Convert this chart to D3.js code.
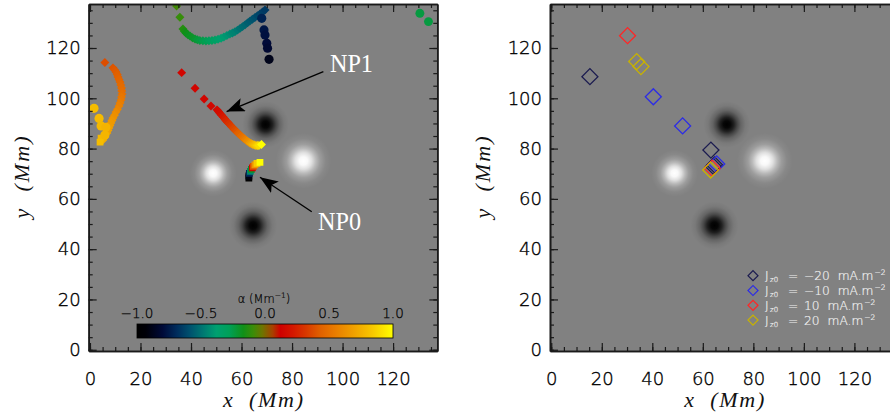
<!DOCTYPE html>
<html>
<head>
<meta charset="utf-8">
<script src="https://cdn.jsdelivr.net/npm/d3@7"></script>
<style>
  body { margin: 0; background: #fff; }
  svg { display: block; }
</style>
</head>
<body>
<svg id="chart" width="890" height="416"></svg>
<script>
// axis ticks (Mm) and colour bar ticks (alpha, Mm^-1)
const mmDomain = [-0.5, 137.5];
const axisTicks = [0, 20, 40, 60, 80, 100, 120];
const alphaTicks = [-1.0, -0.5, 0.0, 0.5, 1.0];

// background magnetogram sources (Mm), +1 positive / -1 negative
const blobX = [48.8, 84.5, 69.5, 64.6];
const blobY = [70.2, 75.1, 89.6, 49.4];
const blobSign = [1, 1, -1, -1];
const blobRadius = [6.4, 7.6, 6.4, 6.6];

// null point tracks: [x, y, alpha]
const orangeTrack = [[5.9, 114.2, 0.38], [9.1, 112.1, 0.40], [9.8, 111.3, 0.41], [10.3, 110.5, 0.42],
  [10.8, 109.5, 0.43], [11.1, 108.5, 0.44], [11.5, 107.5, 0.45], [11.9, 106.5, 0.46], [12.2, 105.3, 0.47],
  [12.5, 104.1, 0.48], [12.6, 102.9, 0.49], [12.7, 101.7, 0.50], [12.5, 100.5, 0.52], [12.3, 99.3, 0.53],
  [11.9, 98.1, 0.55], [11.5, 96.9, 0.56], [10.9, 95.6, 0.58], [10.3, 94.5, 0.60], [9.7, 93.3, 0.62],
  [9.1, 92.2, 0.63], [8.7, 91.2, 0.65], [8.3, 90.2, 0.66], [7.9, 89.2, 0.67], [7.5, 88.2, 0.68],
  [7.1, 87.2, 0.69], [6.7, 86.2, 0.70], [5.9, 84.6, 0.72], [5.1, 83.4, 0.74]];
const orangeCircles = [[1.6, 96.0, 0.80], [3.6, 92.0, 0.79], [4.4, 89.0, 0.78], [6.3, 88.5, 0.76], [5.9, 85.4, 0.77]];
const orangeSquares = [[4.4, 84.2, 0.78], [4.0, 82.6, 0.80]];
const tealTrack = [[34.3, 136.7, -0.08], [35.6, 132.2, -0.10], [36.8, 127.6, -0.13], [37.4, 126.7, -0.15],
  [38.0, 126.0, -0.17], [38.8, 125.3, -0.18], [39.6, 124.8, -0.19], [40.6, 124.1, -0.20], [41.6, 123.6, -0.21],
  [42.5, 123.3, -0.23], [43.5, 123.0, -0.24], [44.7, 122.9, -0.26], [45.9, 122.8, -0.27], [47.1, 122.9, -0.29],
  [48.3, 123.0, -0.31], [49.5, 123.2, -0.33], [50.7, 123.5, -0.35], [51.9, 123.9, -0.37], [53.0, 124.4, -0.39],
  [54.2, 125.0, -0.41], [55.4, 125.6, -0.43], [56.4, 126.0, -0.45], [57.4, 126.5, -0.46], [58.4, 127.1, -0.48],
  [59.4, 127.8, -0.50], [60.4, 128.5, -0.52], [61.4, 129.2, -0.53], [62.4, 130.0, -0.55], [63.3, 130.7, -0.56],
  [64.3, 131.4, -0.58], [65.3, 132.1, -0.59], [66.3, 132.8, -0.61], [67.3, 133.5, -0.62], [68.3, 134.3, -0.64],
  [69.3, 135.1, -0.65]];
const navyCircles = [[68.0, 131.8, -0.72], [68.9, 127.2, -0.76], [69.3, 125.2, -0.78], [70.0, 121.9, -0.80],
  [70.3, 119.9, -0.82], [70.9, 115.5, -0.88]];
const greenCircles = [[130.6, 133.8, -0.24], [134.0, 130.5, -0.24]];
const np1Track = [[36.3, 110.2, 0.14], [41.6, 104.0, 0.14], [45.2, 99.7, 0.14], [47.9, 96.9, 0.15],
  [50.3, 95.4, 0.16], [50.9, 94.7, 0.17], [51.5, 94.0, 0.18], [52.1, 93.3, 0.20], [52.7, 92.6, 0.22],
  [53.3, 91.9, 0.24], [53.8, 91.2, 0.26], [54.4, 90.6, 0.28], [55.0, 90.0, 0.30], [55.6, 89.3, 0.32],
  [56.2, 88.6, 0.34], [56.8, 88.0, 0.36], [57.4, 87.4, 0.38], [58.0, 86.8, 0.40], [58.6, 86.2, 0.43],
  [59.2, 85.6, 0.45], [59.8, 85.0, 0.48], [60.4, 84.5, 0.50], [61.0, 84.0, 0.53], [61.6, 83.5, 0.56],
  [62.2, 83.0, 0.60], [62.8, 82.6, 0.63], [63.3, 82.2, 0.67], [63.9, 81.9, 0.71], [64.5, 81.6, 0.75],
  [65.1, 81.4, 0.79], [65.7, 81.2, 0.83], [66.3, 81.2, 0.87], [66.9, 81.2, 0.90], [67.9, 81.6, 1.00]];
const np0Track = [[62.9, 68.3, -1.00], [62.9, 69.1, -0.90], [63.1, 70.1, -0.70], [63.5, 70.9, -0.45],
  [63.9, 71.7, -0.20], [64.3, 72.3, 0.15], [64.7, 72.9, 0.40], [65.3, 73.5, 0.65], [66.1, 74.1, 0.85],
  [67.3, 74.5, 1.00]];

// right panel: null positions for each Jz0
const jzLabels = ['\u221220', '\u221210', '10', '20'];
const jzX = [[15.3, 63.2, 64.7, 64.2], [40.4, 52.0, 65.5], [30.2, 63.7], [33.8, 35.5, 63.1]];
const jzY = [[108.6, 79.4, 73.5, 72.9], [100.6, 89.0, 73.9], [124.9, 72.2], [114.6, 112.6, 71.5]];
const jzColors = ['#1c1c50', '#2c2ce6', '#ff2626', '#c8b200'];

// annotations (Mm)
const np1Label = [95.0, 110.5], np1Arrow = [[92.4, 110.6], [54.1, 94.7]];
const np0Label = [90.3, 47.6], np0Arrow = [[87.8, 54.9], [67.3, 68.6]];

// colour table (alpha -> colour)
const cmapAlpha = [-1, -0.93, -0.8, -0.69, -0.59, -0.48, -0.38, -0.28, -0.17, -0.09, -0.02, 0.06, 0.12, 0.22, 0.32, 0.43, 0.53, 0.69, 0.84, 1];
const cmapColor = ['#000000', '#000008', '#000a38', '#002c5c', '#00506e', '#007a72', '#00a070', '#00a058',
  '#109018', '#3c8c08', '#6e7400', '#a84000', '#d00000', '#d41800', '#d83800', '#e06000', '#e87800',
  '#f0a000', '#f8c800', '#ffff00'];

const svg = d3.select('#chart');
const defs = svg.append('defs');
const alphaColor = d3.scaleLinear().domain(cmapAlpha).range(cmapColor).interpolate(d3.interpolateRgb).clamp(true);
const tickFont = 'DejaVu Sans';
const serif = 'Liberation Serif';

[['blob-pos', '#ffffff'], ['blob-neg', '#000000']].forEach(([id, color]) => {
  const grad = defs.append('radialGradient').attr('id', id);
  [[0, 1], [0.15, 0.95], [0.3, 0.75], [0.45, 0.45], [0.6, 0.22], [0.8, 0.06], [1, 0]].forEach(([o, a]) => {
    grad.append('stop').attr('offset', o).attr('stop-color', color).attr('stop-opacity', a);
  });
});

defs.append('marker').attr('id', 'arrowhead')
  .attr('markerUnits', 'userSpaceOnUse')
  .attr('markerWidth', 20).attr('markerHeight', 14)
  .attr('refX', 18).attr('refY', 7)
  .attr('orient', 'auto')
  .append('path').attr('d', 'M0,0 L18,7 L0,14 L4,7 Z').attr('fill', '#000');

function drawPanel(x, y, id) {
  const [x0, x1] = x.range();
  const [y1, y0] = y.range();
  const g = svg.append('g');
  defs.append('clipPath').attr('id', 'clip-' + id)
    .append('rect').attr('x', x0).attr('y', y0).attr('width', x1 - x0).attr('height', y1 - y0);
  g.append('rect').attr('x', x0).attr('y', y0).attr('width', x1 - x0).attr('height', y1 - y0).attr('fill', '#818181');
  const plot = g.append('g').attr('clip-path', `url(#clip-${id})`);
  plot.selectAll('circle.blob')
    .data(blobX.map((bx, i) => ({ x: bx, y: blobY[i], sign: blobSign[i], r: blobRadius[i] })))
    .enter().append('circle')
    .attr('class', 'blob')
    .attr('cx', d => x(d.x))
    .attr('cy', d => y(d.y))
    .attr('r', d => x(d.r * 1.45) - x(0))
    .attr('fill', d => d.sign > 0 ? 'url(#blob-pos)' : 'url(#blob-neg)');
  return { g, plot };
}

function drawAxes(g, x, y, showLabels) {
  const [x0, x1] = x.range();
  const [y1, y0] = y.range();
  const minor = d3.range(0, 140, 5);
  const style = (a) => {
    a.select('.domain').attr('stroke', '#1a1a1a').attr('stroke-width', 1.6);
    a.selectAll('.tick line').attr('stroke', '#1a1a1a').attr('stroke-width', 1.2);
    a.attr('font-family', tickFont).attr('font-size', 18).attr('font-weight', 200);
    a.selectAll('.tick text').attr('fill', '#000').attr('stroke', '#000').attr('stroke-width', 0.35);
    return a;
  };
  const sides = [
    [d3.axisBottom(x), 0, y1, showLabels, 21],
    [d3.axisTop(x), 0, y0, false, 0],
    [d3.axisLeft(y), x0, 0, showLabels, 8],
    [d3.axisRight(y), x1, 0, false, 0]
  ];
  sides.forEach(([axis, tx, ty, labels, pad]) => {
    style(g.append('g').attr('transform', `translate(${tx},${ty})`)
      .call(axis.tickValues(minor).tickSize(-4).tickSizeOuter(0).tickFormat('')));
    style(g.append('g').attr('transform', `translate(${tx},${ty})`)
      .call(axis.tickValues(axisTicks).tickSize(-8).tickSizeOuter(0).tickPadding(pad)
        .tickFormat(labels ? d3.format('d') : '')));
  });
  g.append('text')
    .attr('x', (x0 + x1) / 2).attr('y', 407)
    .attr('text-anchor', 'middle')
    .attr('font-family', serif).attr('font-style', 'italic').attr('font-size', 22)
    .attr('textLength', 80).attr('lengthAdjust', 'spacing')
    .attr('fill', '#111')
    .style('white-space', 'pre')
    .text('x  (Mm)');
  g.append('text')
    .attr('transform', `translate(${x0 - 60},${(y0 + y1) / 2}) rotate(-90)`)
    .attr('text-anchor', 'middle')
    .attr('font-family', serif).attr('font-style', 'italic').attr('font-size', 22)
    .attr('textLength', 82).attr('lengthAdjust', 'spacing')
    .attr('fill', '#111')
    .style('white-space', 'pre')
    .text('y  (Mm)');
}

function drawMarkers(plot, x, y, data, shape, area) {
  const sym = d3.symbol().type(shape === 'circle' ? d3.symbolCircle : d3.symbolSquare).size(area);
  plot.append('g').selectAll('path')
    .data(data)
    .enter().append('path')
    .attr('d', sym)
    .attr('transform', d => `translate(${x(d[0])},${y(d[1])})` + (shape === 'diamond' ? ' rotate(45)' : ''))
    .attr('fill', d => alphaColor(d[2]));
}

// ---- left panel ----
const xL = d3.scaleLinear().domain(mmDomain).range([88.7, 437.3]);
const yL = d3.scaleLinear().domain(mmDomain).range([351, 4]);
const left = drawPanel(xL, yL, 'left');

drawMarkers(left.plot, xL, yL, orangeTrack, 'diamond', 40);
drawMarkers(left.plot, xL, yL, orangeSquares, 'square', 46);
drawMarkers(left.plot, xL, yL, orangeCircles, 'circle', 66);
drawMarkers(left.plot, xL, yL, tealTrack, 'diamond', 40);
drawMarkers(left.plot, xL, yL, navyCircles, 'circle', 66);
drawMarkers(left.plot, xL, yL, greenCircles, 'circle', 62);
drawMarkers(left.plot, xL, yL, np1Track, 'diamond', 40);
drawMarkers(left.plot, xL, yL, np0Track, 'square', 46);

[[np1Arrow, np1Label, 'NP1'], [np0Arrow, np0Label, 'NP0']].forEach(([arrow, label, name]) => {
  left.plot.append('line')
    .attr('x1', xL(arrow[0][0])).attr('y1', yL(arrow[0][1]))
    .attr('x2', xL(arrow[1][0])).attr('y2', yL(arrow[1][1]))
    .attr('stroke', '#000').attr('stroke-width', 1.3)
    .attr('marker-end', 'url(#arrowhead)');
  left.plot.append('text')
    .attr('x', xL(label[0])).attr('y', yL(label[1]))
    .attr('font-family', serif).attr('font-size', 25)
    .attr('textLength', 43).attr('lengthAdjust', 'spacingAndGlyphs')
    .attr('fill', '#fff')
    .text(name);
});

// colour bar
const cbX = d3.scaleLinear().domain([-1, 1]).range([137, 393]);
const cbGrad = defs.append('linearGradient').attr('id', 'cbar');
cmapAlpha.forEach((a, i) => {
  cbGrad.append('stop').attr('offset', (a + 1) / 2).attr('stop-color', cmapColor[i]);
});
left.plot.append('rect')
  .attr('x', cbX(-1)).attr('y', 324).attr('width', cbX(1) - cbX(-1)).attr('height', 14)
  .attr('fill', 'url(#cbar)').attr('stroke', '#000').attr('stroke-width', 0.8);
left.plot.append('g').selectAll('text')
  .data(alphaTicks)
  .enter().append('text')
  .attr('x', d => cbX(d)).attr('y', 318)
  .attr('text-anchor', 'middle')
  .attr('font-family', tickFont).attr('font-size', 13.5).attr('font-weight', 200)
  .attr('fill', '#000').attr('stroke', '#000').attr('stroke-width', 0.25)
  .text(d => d3.format('.1f')(d).replace('-', '\u2212'));
const cbTitle = left.plot.append('text')
  .attr('x', 264).attr('y', 303)
  .attr('text-anchor', 'middle')
  .attr('font-family', tickFont).attr('font-size', 11.5).attr('font-weight', 200)
  .attr('fill', '#000').attr('stroke', '#000').attr('stroke-width', 0.2);
cbTitle.append('tspan').text('\u03b1 (Mm');
cbTitle.append('tspan').attr('font-size', 7.5).attr('dy', -5).text('\u22121');
cbTitle.append('tspan').attr('dy', 5).text(')');

drawAxes(left.g, xL, yL, true);

// ---- right panel ----
const xR = d3.scaleLinear().domain(mmDomain).range([550, 898.6]);
const right = drawPanel(xR, yL, 'right');
const openDiamond = d3.symbol().type(d3.symbolSquare).size(128);
jzX.forEach((xs, k) => {
  right.plot.append('g').selectAll('path')
    .data(xs.map((v, i) => [v, jzY[k][i]]))
    .enter().append('path')
    .attr('d', openDiamond)
    .attr('transform', d => `translate(${xR(d[0])},${yL(d[1])}) rotate(45)`)
    .attr('fill', 'none')
    .attr('stroke', jzColors[k])
    .attr('stroke-width', 1.3);
});

const legend = right.plot.append('g').attr('transform', 'translate(753,275.7)');
const legendDiamond = d3.symbol().type(d3.symbolSquare).size(50);
jzLabels.forEach((lab, k) => {
  const row = legend.append('g').attr('transform', `translate(0,${k * 14.8})`);
  row.append('path').attr('d', legendDiamond).attr('transform', 'rotate(45)')
    .attr('fill', 'none').attr('stroke', jzColors[k]).attr('stroke-width', 1.2);
  const t = row.append('text')
    .attr('y', 4.5)
    .attr('font-family', tickFont).attr('font-size', 12.2).attr('font-weight', 200)
    .attr('fill', '#f2f2f2').attr('stroke', '#f2f2f2').attr('stroke-width', 0.2);
  t.append('tspan').attr('x', 12).text('J');
  t.append('tspan').attr('x', 17).attr('font-size', 7).attr('dy', 2).text('z0');
  t.append('tspan').attr('x', 35).attr('dy', -2).text('=');
  const val = t.append('tspan').attr('x', 51).text(lab);
  const valEnd = 51 + val.node().getComputedTextLength();
  t.append('tspan').attr('x', valEnd + 8).text('mA.m');
  t.append('tspan').attr('font-size', 7.5).attr('dy', -5).attr('dx', 1).text('\u22122');
});

drawAxes(right.g, xR, yL, true);
</script>
</body>
</html>
